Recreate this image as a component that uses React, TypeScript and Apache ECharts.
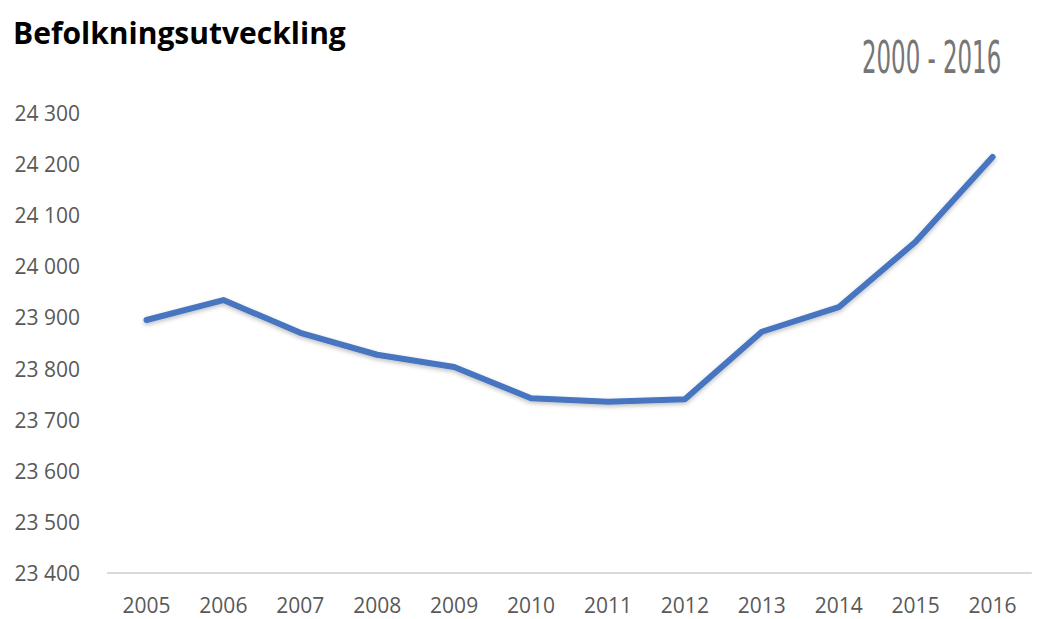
import React, { useEffect, useRef } from "react";
import * as echarts from "echarts";

const years = ["2005", "2006", "2007", "2008", "2009", "2010", "2011", "2012", "2013", "2014", "2015", "2016"];
const population = [23895, 23934, 23870, 23827, 23803, 23742, 23735, 23740, 23872, 23920, 24048, 24214];
const titleText = "Befolkningsutveckling";
const periodText = "2000 - 2016";
const yMin = 23400;
const yMax = 24300;
const yStep = 100;

const fmt = (v: number) => {
  const s = String(Math.round(v));
  return s.length > 3 ? s.slice(0, s.length - 3) + " " + s.slice(s.length - 3) : s;
};

export default function App() {
  const ref = useRef<HTMLDivElement>(null);
  useEffect(() => {
    if (!ref.current) return;
    const chart = echarts.init(ref.current, undefined, { renderer: "svg" });
    chart.setOption({
      animation: false,
      backgroundColor: "#ffffff",
      title: {
        text: titleText,
        left: 8,
        top: 12,
        textStyle: { fontFamily: "Open Sans", fontWeight: "bold", fontSize: 30, color: "#000000" },
      },
      graphic: [
        {
          type: "text",
          x: 862,
          y: 57,
          scaleX: 0.52,
          style: {
            text: periodText,
            fontFamily: "DejaVu Sans",
            fontWeight: "normal",
            fontSize: 44,
            fill: "#767676",
            textAlign: "left",
            textVerticalAlign: "middle",
          },
        },
      ],
      grid: { left: 108, right: 7, top: 113, bottom: 46, containLabel: false },
      xAxis: {
        type: "category",
        data: years,
        boundaryGap: true,
        axisLine: { lineStyle: { color: "#d9d9d9", width: 2 } },
        axisTick: { show: false },
        axisLabel: { color: "#595959", fontFamily: "Open Sans", fontSize: 21, margin: 21 },
      },
      yAxis: {
        type: "value",
        min: yMin,
        max: yMax,
        interval: yStep,
        axisLine: { show: false },
        axisTick: { show: false },
        splitLine: { show: false },
        axisLabel: { color: "#595959", fontFamily: "Open Sans", fontSize: 21, margin: 28, formatter: fmt },
      },
      series: [
        {
          type: "line",
          data: population,
          showSymbol: false,
          symbol: "none",
          lineStyle: {
            color: "#4675c0",
            width: 6,
            cap: "round",
            join: "round",
            shadowColor: "rgba(0,0,0,0.25)",
            shadowBlur: 4,
            shadowOffsetY: 2,
          },
        },
      ],
    });
    return () => chart.dispose();
  }, []);
  return <div ref={ref} style={{ position: "fixed", left: 0, top: 0, width: 1038, height: 619 }} />;
}
